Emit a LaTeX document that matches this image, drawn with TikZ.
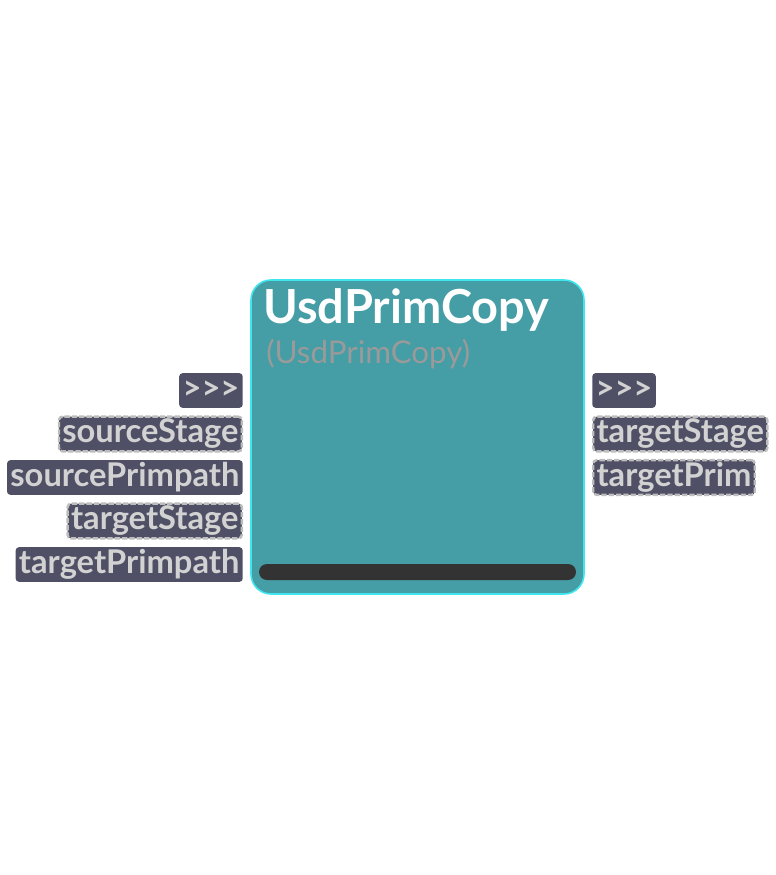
\documentclass[tikz,border=0pt]{standalone}
\usepackage{fontspec}
\setmainfont{Lato}
\usetikzlibrary{positioning}

\definecolor{boxfill}{HTML}{459DA5}
\definecolor{boxedge}{HTML}{3FE6EE}
\definecolor{portfill}{HTML}{4F4F66}
\definecolor{porttext}{HTML}{D2D2D2}
\definecolor{portedge}{HTML}{BDBDBD}
\definecolor{subtext}{HTML}{9A9A9A}
\definecolor{barfill}{HTML}{333333}

\begin{document}
\begin{tikzpicture}[
    x=0.75pt, y=-0.75pt,
    nodebox/.style={draw=boxedge, line width=1.2pt, fill=boxfill, rounded corners=15pt, minimum width=249.75pt, minimum height=235.5pt},
    port/.style={fill=portfill, text=porttext, rounded corners=2.5pt, minimum height=26pt, inner xsep=2.5pt, inner ysep=0pt, font=\fontsize{24.5}{25}\selectfont\bfseries},
    dashport/.style={port, draw=portedge, dashed, dash pattern=on 4pt off 1.5pt, line width=1.8pt}
  ]
    \useasboundingbox (0,0) rectangle (775,875);

    % main node
    \node[nodebox] (prim) at (417.5,437) {};
    \node[anchor=base west, inner sep=0pt, text=white, font=\fontsize{35.2}{36}\selectfont\bfseries] (title) at (263,323) {UsdPrimCopy};
    \node[anchor=base west, inner sep=0pt, text=subtext, font=\fontsize{23.5}{24}\selectfont] (type) at (266,363) {(UsdPrimCopy)};
    \node[fill=barfill, rounded corners=6pt, minimum width=237.75pt, minimum height=12pt, inner sep=0pt] (bar) at (417.5,572) {};

    % inputs
    \node[port, anchor=east]     (inexec)   at (243,390.5) {>{}>{}>};
    \node[dashport, anchor=east] (srcstage) at (243,434)   {sourceStage};
    \node[port, anchor=east]     (srcpath)  at (243,477.5) {sourcePrimpath};
    \node[dashport, anchor=east] (tgtstage) at (243,521)   {targetStage};
    \node[port, anchor=east]     (tgtpath)  at (243,564.5) {targetPrimpath};

    % outputs
    \node[port, anchor=west]     (outexec)  at (592,390.5) {>{}>{}>};
    \node[dashport, anchor=west] (outstage) at (592,434)   {targetStage};
    \node[dashport, anchor=west] (outprim)  at (592,477.5) {targetPrim};

  \end{tikzpicture}
\end{document}
